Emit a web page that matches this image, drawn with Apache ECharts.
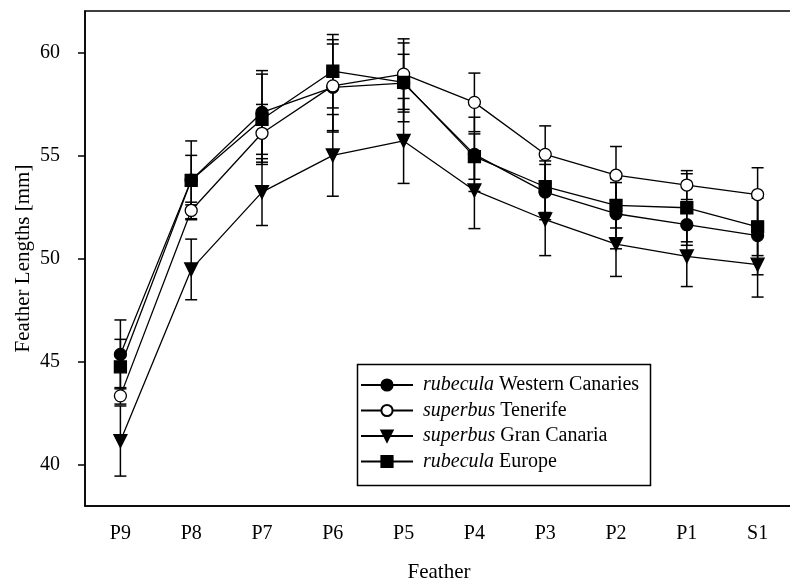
<!DOCTYPE html>
<html>
<head>
<meta charset="UTF-8">
<title>Feather Lengths</title>
<script src="https://cdn.jsdelivr.net/npm/echarts@6/dist/echarts.min.js"></script>
<style>
html,body{margin:0;padding:0;background:#fff;}
#chart{width:790px;height:583px;}
</style>
</head>
<body>
<div id="chart"></div>
<script type="text/javascript">
// feathers along the x axis
var categories = ['P9','P8','P7','P6','P5','P4','P3','P2','P1','S1'];
var yTicks = [40,45,50,55,60];

// means and SD per population
var westMean = [45.35,53.80,57.08,58.30,58.50,55.05,53.22,52.17,51.64,51.11];
var westSd   = [1.67,1.20,2.03,2.10,1.40,1.80,1.34,1.70,1.00,1.90];
var tenMean  = [43.34,52.33,56.07,58.37,58.94,57.57,55.05,54.04,53.56,53.10];
var tenSd    = [0.40,0.40,1.40,2.24,1.71,1.42,1.38,1.39,0.70,1.30];
var granMean = [41.15,49.47,53.22,55.00,55.70,53.30,51.89,50.70,50.10,49.70];
var granSd   = [1.70,1.47,1.62,1.98,2.06,1.85,1.75,1.57,1.46,1.57];
var euroMean = [44.75,53.79,56.75,59.08,58.54,54.94,53.48,52.58,52.46,51.53];
var euroSd   = [1.33,1.91,2.19,1.78,1.91,1.10,1.25,1.10,1.65,1.39];

var font = 'Liberation Serif';

function errData(mean, sd){
	var out = [];
	for(var i=0;i<mean.length;i++){
		out.push([i, mean[i]-sd[i], mean[i]+sd[i]]);
	}
	return out;
}

function renderErr(params, api){
	var x = api.value(0);
	var lo = api.coord([x, api.value(1)]);
	var hi = api.coord([x, api.value(2)]);
	var w = 6;
	var st = {stroke:'#000', lineWidth:1.5};
	return {
		type:'group',
		children:[
			{type:'line', shape:{x1:lo[0],y1:lo[1],x2:hi[0],y2:hi[1]}, style:st},
			{type:'line', shape:{x1:lo[0]-w,y1:lo[1],x2:lo[0]+w,y2:lo[1]}, style:st},
			{type:'line', shape:{x1:hi[0]-w,y1:hi[1],x2:hi[0]+w,y2:hi[1]}, style:st}
		]
	};
}

function errSeries(mean, sd){
	return {
		type:'custom',
		renderItem:renderErr,
		data:errData(mean, sd),
		encode:{x:0, y:[1,2]},
		z:1,
		silent:true
	};
}

function lineSeries(name, mean, symbol, size, fill, rotate){
	return {
		name:name,
		type:'line',
		data:mean,
		symbol:symbol,
		symbolSize:size,
		symbolRotate:rotate || 0,
		showAllSymbol:true,
		lineStyle:{color:'#000', width:1.3},
		itemStyle:{color:fill, borderColor:'#000', borderWidth:1.3},
		emphasis:{disabled:true},
		z:3
	};
}

var chart = echarts.init(document.getElementById('chart'));
var option = {
	animation:false,
	backgroundColor:'#fff',
	textStyle:{fontFamily:font, color:'#000'},
	grid:{
		left:85, right:-3, top:11, bottom:77,
		outerBoundsMode:'none',
		containLabel:false,
		show:true, borderColor:'#000', borderWidth:1.5, backgroundColor:'transparent'
	},
	xAxis:{
		type:'category',
		data:categories,
		boundaryGap:true,
		name:'Feather',
		nameLocation:'middle',
		nameGap:56,
		nameMoveOverlap:false,
		nameTextStyle:{fontFamily:font, fontSize:21, color:'#000'},
		axisLine:{lineStyle:{color:'#000', width:1.5}},
		axisTick:{alignWithLabel:true, length:7, lineStyle:{color:'#000', width:1.5}},
		axisLabel:{fontFamily:font, fontSize:20, color:'#000', margin:18},
		splitLine:{show:false}
	},
	yAxis:{
		type:'value',
		min:38, max:62,
		name:'Feather Lengths [mm]',
		nameLocation:'middle',
		nameGap:51,
		nameMoveOverlap:false,
		nameTextStyle:{fontFamily:font, fontSize:21, color:'#000'},
		axisLine:{show:true, lineStyle:{color:'#000', width:1.5}},
		axisTick:{show:true, length:7, customValues:yTicks, lineStyle:{color:'#000', width:1.5}},
		axisLabel:{fontFamily:font, fontSize:20, color:'#000', margin:25, customValues:yTicks},
		splitLine:{show:false}
	},
	legend:{
		orient:'vertical',
		left:360, top:375,
		itemWidth:52, itemHeight:14, itemGap:5.5,
		padding:0,
		selectedMode:false,
		textStyle:{fontFamily:font, fontSize:20, color:'#000', lineHeight:20,
			rich:{i:{fontFamily:font, fontSize:20, fontStyle:'italic', color:'#000', lineHeight:20, padding:[0,0,0,5]}}},
		formatter:function(name){
			var k = name.indexOf(' ');
			return '{i|' + name.substring(0,k) + '}' + name.substring(k);
		},
		data:['rubecula Western Canaries','superbus Tenerife','superbus Gran Canaria','rubecula Europe']
	},
	graphic:[{
		type:'rect', left:355, top:362, z:0,
		shape:{width:293, height:121},
		style:{fill:'none', stroke:'#000', lineWidth:1.5}
	}],
	series:[
		errSeries(westMean, westSd),
		errSeries(tenMean, tenSd),
		errSeries(granMean, granSd),
		errSeries(euroMean, euroSd),
		lineSeries('rubecula Western Canaries', westMean, 'circle', 12, '#000'),
		lineSeries('superbus Tenerife', tenMean, 'circle', 12, '#fff'),
		lineSeries('superbus Gran Canaria', granMean, 'triangle', 13, '#000', 180),
		lineSeries('rubecula Europe', euroMean, 'rect', 12, '#000')
	]
};
chart.setOption(option);
</script>
</body>
</html>
